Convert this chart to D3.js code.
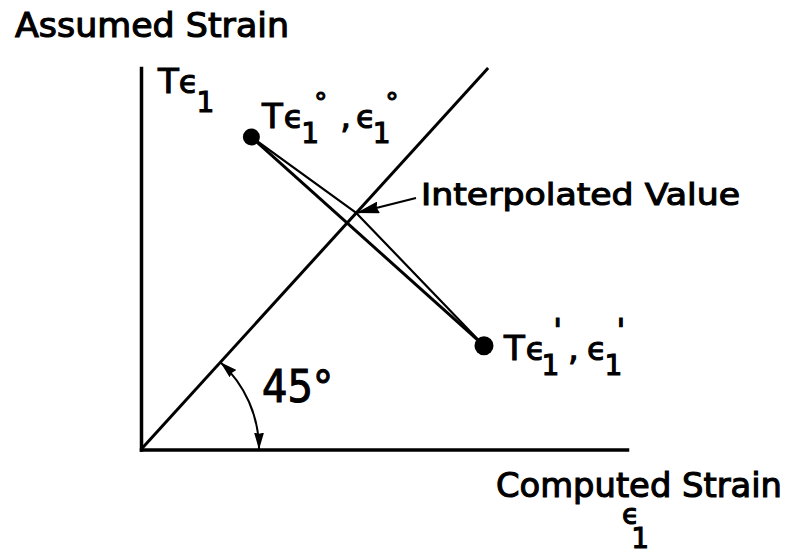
<!DOCTYPE html>
<html>
<head>
<meta charset="utf-8">
<script src="https://cdn.jsdelivr.net/npm/d3@7"></script>
<style>
  html, body { margin: 0; padding: 0; background: #fff; }
  svg { display: block; }
  .lbl { font-family: "DejaVu Sans", sans-serif; fill: #000; stroke: #000; stroke-width: 1.1px; paint-order: stroke; }
</style>
</head>
<body>
<svg id="chart" width="797" height="559"></svg>
<script>
// Axis extents in strain units
const computedStrainMax = 1.4;
const assumedStrainMax = 1.0;
// Line of equality (assumed = computed), drawn at 45°
const equalityRange = [0, 1.0];
// The two trial states: computed strain (x) and assumed strain (y)
const trialNames = ["trial 0", "trial 1"];
const computedStrain = [0.318, 0.988];
const assumedStrain = [0.819, 0.272];
// Where the interpolation meets the line of equality
const interpolatedValue = 0.62;
// Radius of the angle marker, in computed-strain units
const angleRadius = 0.34;

// Text
const yTitle = "Assumed Strain";
const xTitle = "Computed Strain";
const interpLabel = "Interpolated Value";
const angleLabel = "45°";

const svg = d3.select("#chart");

const x = d3.scaleLinear().domain([0, computedStrainMax]).range([141, 627]);
const y = d3.scaleLinear().domain([0, assumedStrainMax]).range([449.5, 68]);

const defs = svg.append("defs");
function marker(id, len, half) {
  defs.append("marker")
    .attr("id", id)
    .attr("viewBox", `${-len} ${-half} ${len} ${half * 2}`)
    .attr("refX", 0).attr("refY", 0)
    .attr("markerWidth", len).attr("markerHeight", half * 2)
    .attr("markerUnits", "userSpaceOnUse")
    .attr("orient", "auto-start-reverse")
    .append("path")
    .attr("d", `M0,0L${-len},${-half}L${-len * 0.92},0L${-len},${half}Z`)
    .attr("fill", "#000");
}
marker("arrowSmall", 17, 5);
marker("arrowBig", 23, 6);

// Axes without ticks
svg.append("g")
  .attr("transform", `translate(0,${y(0)})`)
  .call(d3.axisBottom(x).tickValues([]).tickSizeOuter(0));
svg.append("g")
  .attr("transform", `translate(${x(0)},0)`)
  .call(d3.axisLeft(y).tickValues([]).tickSizeOuter(0));
svg.selectAll(".domain")
  .attr("stroke", "#000")
  .attr("stroke-width", 3.5)
  .attr("stroke-linecap", "square");

// 45° line of equality
svg.append("line")
  .attr("x1", x(equalityRange[0])).attr("y1", y(equalityRange[0]))
  .attr("x2", x(equalityRange[1])).attr("y2", y(equalityRange[1]))
  .attr("stroke", "#000").attr("stroke-width", 3);

const pts = trialNames.map((n, i) => ({ name: n, cx: computedStrain[i], cy: assumedStrain[i] }));
const line = d3.line().x(d => x(d.cx)).y(d => y(d.cy));
const interpPoint = { cx: interpolatedValue, cy: interpolatedValue };

// Straight chord between the two trials
svg.append("path")
  .attr("d", line(pts))
  .attr("fill", "none").attr("stroke", "#000").attr("stroke-width", 3);
// Path through the interpolated value on the line of equality
svg.append("path")
  .attr("d", line([pts[0], interpPoint, pts[1]]))
  .attr("fill", "none").attr("stroke", "#000").attr("stroke-width", 2.2)
  .attr("stroke-linejoin", "round");

// Trial points
svg.selectAll("circle.trial")
  .data(pts)
  .join("circle")
  .attr("class", "trial")
  .attr("cx", d => x(d.cx)).attr("cy", d => y(d.cy))
  .attr("r", (d, i) => i === 0 ? 8.5 : 9.5)
  .attr("fill", "#000");

// Angle marker between the x axis and the line of equality
const ox = x(0), oy = y(0);
const R = x(angleRadius) - x(0);
const ang = Math.atan2(y(0) - y(equalityRange[1]), x(equalityRange[1]) - x(0));
svg.append("path")
  .attr("d", `M${ox + R * Math.cos(ang)},${oy - R * Math.sin(ang)}A${R},${R} 0 0 1 ${ox + R},${oy}`)
  .attr("fill", "none").attr("stroke", "#000").attr("stroke-width", 2)
  .attr("marker-start", "url(#arrowSmall)")
  .attr("marker-end", "url(#arrowSmall)");

// Text helpers
function richText(px, py, parts) {
  const t = svg.append("text").attr("class", "lbl").attr("x", px).attr("y", py);
  parts.forEach(p => {
    t.append("tspan")
      .attr("font-size", p.s)
      .attr("dx", p.dx || 0)
      .attr("dy", p.dy || 0)
      .text(p.t);
  });
  return t;
}
function plainText(px, py, str, size, len) {
  const t = svg.append("text").attr("class", "lbl")
    .attr("x", px).attr("y", py)
    .attr("font-size", size)
    .text(str);
  if (len) t.attr("textLength", len).attr("lengthAdjust", "spacingAndGlyphs");
  return t;
}

plainText(15, 37, yTitle, 33, 274);
plainText(496, 497, xTitle, 33, 286);
richText(622, 524, [
  { t: "ϵ", s: 28 },
  { t: "1", s: 28, dx: -8, dy: 24 }
]);

// Y-axis quantity
richText(x(0) + 17, y(assumedStrainMax) + 25, [
  { t: "T", s: 34 },
  { t: "ϵ", s: 32, dx: 0 },
  { t: "1", s: 28, dx: -2, dy: 19 }
]);

// Trial point labels
const p0 = pts[0], p1 = pts[1];
richText(x(p0.cx) + 10.5, y(p0.cy) - 9, [
  { t: "T", s: 34 },
  { t: "ϵ", s: 32, dx: 1 },
  { t: "1", s: 28, dx: -2, dy: 15 },
  { t: "°", s: 26, dx: -5, dy: -31 },
  { t: ",", s: 34, dx: 13, dy: 16 },
  { t: "ϵ", s: 32, dx: 5 },
  { t: "1", s: 28, dx: -3, dy: 15 },
  { t: "°", s: 26, dx: -5, dy: -31 }
]);
richText(x(p1.cx) + 20, y(p1.cy) + 14.4, [
  { t: "T", s: 34 },
  { t: "ϵ", s: 32, dx: 1 },
  { t: "1", s: 28, dx: -4, dy: 15 },
  { t: "'", s: 32, dx: -6, dy: -34 },
  { t: ",", s: 34, dx: 6, dy: 19 },
  { t: "ϵ", s: 32, dx: 8 },
  { t: "1", s: 28, dx: -2, dy: 15 },
  { t: "'", s: 32, dx: -6, dy: -34 }
]);

// Angle label
plainText(262, 402, angleLabel, 44, 71);

// Interpolated value label and its arrow
const ilx = 421, ily = 205;
plainText(ilx, ily, interpLabel, 31, 319);
svg.append("line")
  .attr("x1", ilx - 5).attr("y1", ily - 7)
  .attr("x2", x(interpPoint.cx)).attr("y2", y(interpPoint.cy))
  .attr("stroke", "#000").attr("stroke-width", 2.2)
  .attr("marker-end", "url(#arrowBig)");
</script>
</body>
</html>
